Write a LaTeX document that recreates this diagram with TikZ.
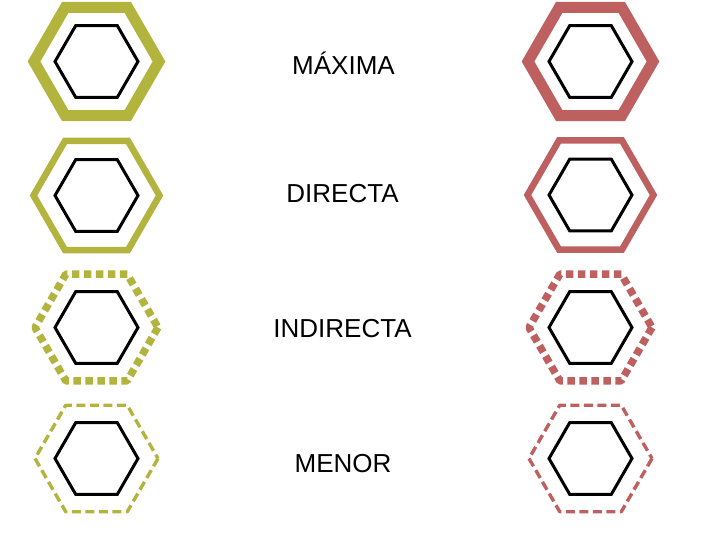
\documentclass[tikz,border=0pt]{standalone}
\usepackage{fontspec}
\setmainfont{Liberation Sans}
\definecolor{olivec}{RGB}{178,180,62}
\definecolor{rosec}{RGB}{190,96,96}
\newcommand\hexpath[3]{\draw[#1] (#2) ++(0:#3) -- ++(120:#3) -- ++(180:#3) -- ++(240:#3) -- ++(300:#3) -- ++(0:#3) -- cycle;}
\begin{document}
\begin{tikzpicture}[x=1pt,y=-1pt,
  innerhex/.style={draw=black,line width=3pt,line join=miter},
  maxima/.style={line width=11pt,line join=miter},
  directa/.style={line width=6.5pt,line join=miter},
  indirecta/.style={line width=7.5pt,dash pattern=on 7.5pt off 4.5pt,line join=round},
  menor/.style={line width=3.4pt,dash pattern=on 9pt off 4.5pt,line join=round},
  lbl/.style={font=\fontsize{26}{31}\selectfont,anchor=base,inner sep=0pt}]
\useasboundingbox (0,0) rectangle (701,540);
\coordinate (L1) at (96.5,61.5);
\coordinate (L2) at (96.5,195.5);
\coordinate (L3) at (96.5,327.5);
\coordinate (L4) at (96.5,458.5);
\coordinate (R1) at (590.5,61.5);
\coordinate (R2) at (590.5,195);
\coordinate (R3) at (590.5,327.5);
\coordinate (R4) at (590.5,458.5);
\hexpath{maxima,draw=olivec}{L1}{62.5}
\hexpath{directa,draw=olivec}{L2}{63}
\hexpath{indirecta,draw=olivec}{L3}{61.5}
\hexpath{menor,draw=olivec}{L4}{61.5}
\hexpath{maxima,draw=rosec}{R1}{62.5}
\hexpath{directa,draw=rosec}{R2}{63}
\hexpath{indirecta,draw=rosec}{R3}{61.5}
\hexpath{menor,draw=rosec}{R4}{61.5}
\foreach \c in {L1,L2,L3,L4,R1,R2,R3,R4}{\hexpath{innerhex}{\c}{41.5}}
\node[lbl] (t1) at (343.5,75) {MÁXIMA};
\node[lbl] (t2) at (342.5,203) {DIRECTA};
\node[lbl] (t3) at (342.5,337) {INDIRECTA};
\node[lbl] (t4) at (343,472) {MENOR};
\end{tikzpicture}
\end{document}
